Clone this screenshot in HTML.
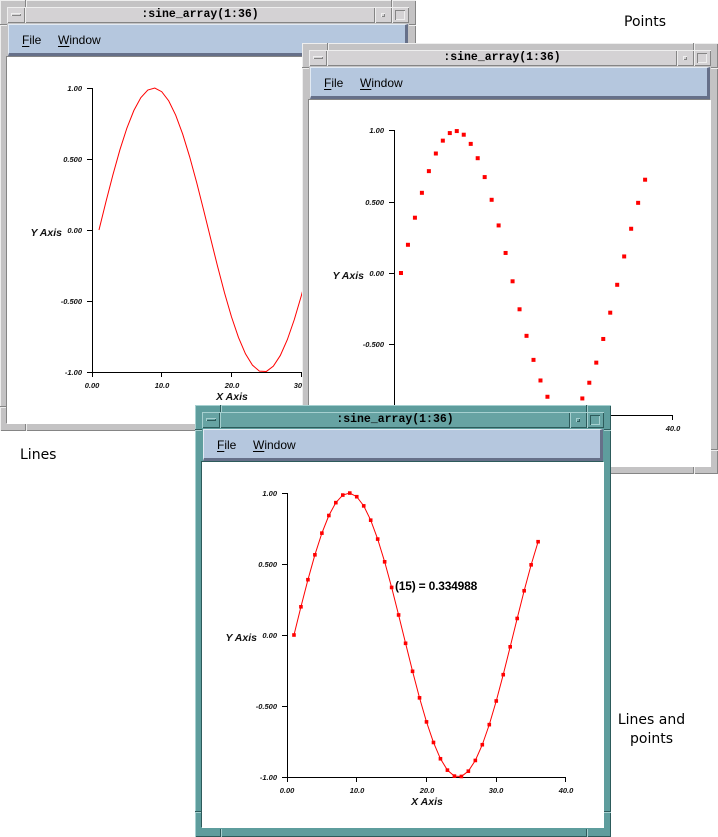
<!DOCTYPE html>
<html>
<head>
<meta charset="utf-8">
<style>
  html,body{margin:0;padding:0;background:#fff;}
  body{width:718px;height:837px;position:relative;overflow:hidden;font-family:"Liberation Sans",sans-serif;}
  .win{position:absolute;width:416px;height:431px;background:var(--f);
       box-shadow:inset 1px 1px 0 var(--l), inset -1px -1px 0 var(--d);}
  .gray{--f:#c4c3c4;--t:#d4d2d4;--l:#eeeeee;--d:#858585;}
  .teal{--f:#5e9d9d;--t:#67a3a3;--l:#a6d0d0;--d:#2d5b5b;}
  .tb{position:absolute;left:7px;top:7px;width:402px;height:16px;background:var(--t);}
  .b{position:absolute;top:0;height:16px;box-sizing:border-box;
     box-shadow:inset 1px 1px 0 var(--l), inset -1px -1px 0 var(--d);}
  .b0{left:0;width:18px;}
  .tt{left:18px;width:350px;text-align:center;font-family:"Liberation Mono",monospace;font-weight:bold;
      font-size:11.5px;line-height:16px;color:#000;white-space:nowrap;}
  .b1{left:368px;width:17px;}
  .b2{left:385px;width:17px;}
  .bar{position:absolute;left:4px;top:6px;width:10px;height:3px;box-sizing:border-box;
       box-shadow:inset 1px 1px 0 var(--l), inset -1px -1px 0 var(--d);}
  .sm{position:absolute;left:6px;top:6px;width:4px;height:4px;box-sizing:border-box;
       box-shadow:inset 1px 1px 0 var(--l), inset -1px -1px 0 var(--d);}
  .bg{position:absolute;left:3px;top:3px;width:10px;height:10px;box-sizing:border-box;
       box-shadow:inset 1px 1px 0 var(--d), inset -1px -1px 0 var(--l);}
  .mb{position:absolute;left:8px;top:24px;width:400px;height:32px;box-sizing:border-box;background:#b5c7de;
      border-top:1px solid #e2eaf3;border-left:1px solid #e2eaf3;border-bottom:3px solid #667089;border-right:3px solid #667089;}
  .mi{position:absolute;top:33px;font-size:12px;line-height:14px;color:#000;white-space:nowrap;}
  .mi u{text-decoration:underline;text-underline-offset:2px;}
  .cw{position:absolute;left:7px;top:57px;width:402px;height:367px;background:#fff;
      box-shadow:-1px -1px 0 var(--d);}
  .cv{position:absolute;background:var(--d);box-shadow:1px 0 0 var(--l);}
  .ch{position:absolute;background:var(--d);box-shadow:0 1px 0 var(--l);}
  svg.p{position:absolute;left:0;top:0;}
  .lbl{position:absolute;font-family:"DejaVu Sans",sans-serif;font-size:14px;color:#000;white-space:nowrap;}
</style>
</head>
<body>

<!-- WINDOW 1 : Lines -->
<div class="win gray" style="left:0;top:0;">
  <div class="cv" style="left:25px;top:0;width:1px;height:7px;"></div>
  <div class="cv" style="left:391px;top:0;width:1px;height:7px;"></div>
  <div class="cv" style="left:25px;top:424px;width:1px;height:7px;"></div>
  <div class="cv" style="left:391px;top:424px;width:1px;height:7px;"></div>
  <div class="ch" style="left:0;top:24px;width:7px;height:1px;"></div>
  <div class="ch" style="left:409px;top:24px;width:7px;height:1px;"></div>
  <div class="ch" style="left:0;top:406px;width:7px;height:1px;"></div>
  <div class="ch" style="left:409px;top:406px;width:7px;height:1px;"></div>
  <div class="tb">
    <div class="b b0"><i class="bar"></i></div>
    <div class="b tt">:sine_array(1:36)</div>
    <div class="b b1"><i class="sm"></i></div>
    <div class="b b2"><i class="bg"></i></div>
  </div>
  <div class="mb"></div>
  <span class="mi" style="left:22px;"><u>F</u>ile</span>
  <span class="mi" style="left:58px;"><u>W</u>indow</span>
  <div class="cw"></div>
  <svg class="p" width="416" height="431" viewBox="0 0 416 431">
    <g stroke="#000" stroke-width="1" fill="none" shape-rendering="crispEdges">
      <line x1="92.5" y1="88" x2="92.5" y2="372.5"/>
      <line x1="92" y1="372.5" x2="371" y2="372.5"/>
      <line x1="87" y1="88.5" x2="92" y2="88.5"/>
      <line x1="87" y1="159.5" x2="92" y2="159.5"/>
      <line x1="87" y1="230.5" x2="92" y2="230.5"/>
      <line x1="87" y1="301.5" x2="92" y2="301.5"/>
      <line x1="87" y1="372.5" x2="92" y2="372.5"/>
      <line x1="92.5" y1="372" x2="92.5" y2="377"/>
      <line x1="161.5" y1="372" x2="161.5" y2="377"/>
      <line x1="231.5" y1="372" x2="231.5" y2="377"/>
      <line x1="301.5" y1="372" x2="301.5" y2="377"/>
      <line x1="370.5" y1="372" x2="370.5" y2="377"/>
    </g>
    <g font-family="Liberation Sans, sans-serif" font-size="7.5" font-style="italic" font-weight="bold" fill="#111">
      <text x="82" y="91" text-anchor="end">1.00</text>
      <text x="82" y="162" text-anchor="end">0.500</text>
      <text x="82" y="233" text-anchor="end">0.00</text>
      <text x="82" y="304" text-anchor="end">-0.500</text>
      <text x="82" y="375" text-anchor="end">-1.00</text>
      <text x="92" y="388" text-anchor="middle">0.00</text>
      <text x="162" y="388" text-anchor="middle">10.0</text>
      <text x="232" y="388" text-anchor="middle">20.0</text>
      <text x="301" y="388" text-anchor="middle">30.0</text>
      <text x="371" y="388" text-anchor="middle">40.0</text>
    </g>
    <g font-family="Liberation Sans, sans-serif" font-size="10.5" font-style="italic" font-weight="bold" fill="#111">
      <text x="232" y="400" text-anchor="middle">X Axis</text>
      <text x="62" y="236" text-anchor="end">Y Axis</text>
    </g>
    <polyline fill="none" stroke="#ff0000" stroke-width="1" points="98.98,230 105.95,201.79 112.93,174.7 119.9,149.82 126.88,128.13 133.85,110.51 140.83,97.65 147.8,90.07 154.78,88.06 161.75,91.71 168.73,100.88 175.7,115.19 182.68,134.08 189.65,156.8 196.63,182.43 203.6,209.96 210.58,238.29 217.55,266.29 224.53,292.84 231.5,316.88 238.48,337.47 245.45,353.76 252.43,365.13 259.4,371.1 266.38,371.45 273.35,366.17 280.33,355.45 287.3,339.73 294.28,319.64 301.25,295.97 308.23,269.68 315.2,241.8 322.18,213.45 329.15,185.76 336.13,159.84 343.1,136.71"/>
  </svg>
</div>

<!-- WINDOW 2 : Points -->
<div class="win gray" style="left:302px;top:43px;">
  <div class="cv" style="left:25px;top:0;width:1px;height:7px;"></div>
  <div class="cv" style="left:391px;top:0;width:1px;height:7px;"></div>
  <div class="cv" style="left:25px;top:424px;width:1px;height:7px;"></div>
  <div class="cv" style="left:391px;top:424px;width:1px;height:7px;"></div>
  <div class="ch" style="left:0;top:24px;width:7px;height:1px;"></div>
  <div class="ch" style="left:409px;top:24px;width:7px;height:1px;"></div>
  <div class="ch" style="left:0;top:406px;width:7px;height:1px;"></div>
  <div class="ch" style="left:409px;top:406px;width:7px;height:1px;"></div>
  <div class="tb">
    <div class="b b0"><i class="bar"></i></div>
    <div class="b tt">:sine_array(1:36)</div>
    <div class="b b1"><i class="sm"></i></div>
    <div class="b b2"><i class="bg"></i></div>
  </div>
  <div class="mb"></div>
  <span class="mi" style="left:22px;"><u>F</u>ile</span>
  <span class="mi" style="left:58px;"><u>W</u>indow</span>
  <div class="cw"></div>
  <svg class="p" width="416" height="431" viewBox="0 0 416 431">
    <g stroke="#000" stroke-width="1" fill="none" shape-rendering="crispEdges">
      <line x1="92.5" y1="87" x2="92.5" y2="372.5"/>
      <line x1="92" y1="372.5" x2="371" y2="372.5"/>
      <line x1="87" y1="87.5" x2="92" y2="87.5"/>
      <line x1="87" y1="159.5" x2="92" y2="159.5"/>
      <line x1="87" y1="230.5" x2="92" y2="230.5"/>
      <line x1="87" y1="301.5" x2="92" y2="301.5"/>
      <line x1="87" y1="372.5" x2="92" y2="372.5"/>
      <line x1="92.5" y1="372" x2="92.5" y2="377"/>
      <line x1="161.5" y1="372" x2="161.5" y2="377"/>
      <line x1="231.5" y1="372" x2="231.5" y2="377"/>
      <line x1="301.5" y1="372" x2="301.5" y2="377"/>
      <line x1="370.5" y1="372" x2="370.5" y2="377"/>
    </g>
    <g font-family="Liberation Sans, sans-serif" font-size="7.5" font-style="italic" font-weight="bold" fill="#111">
      <text x="82" y="90" text-anchor="end">1.00</text>
      <text x="82" y="162" text-anchor="end">0.500</text>
      <text x="82" y="233" text-anchor="end">0.00</text>
      <text x="82" y="304" text-anchor="end">-0.500</text>
      <text x="82" y="375" text-anchor="end">-1.00</text>
      <text x="92" y="388" text-anchor="middle">0.00</text>
      <text x="162" y="388" text-anchor="middle">10.0</text>
      <text x="232" y="388" text-anchor="middle">20.0</text>
      <text x="301" y="388" text-anchor="middle">30.0</text>
      <text x="371" y="388" text-anchor="middle">40.0</text>
    </g>
    <g font-family="Liberation Sans, sans-serif" font-size="10.5" font-style="italic" font-weight="bold" fill="#111">
      <text x="232" y="400" text-anchor="middle">X Axis</text>
      <text x="62" y="236" text-anchor="end">Y Axis</text>
    </g>
    <g fill="#ff0000">
      <rect x="96.98" y="228" width="4" height="4"/>
      <rect x="103.95" y="199.79" width="4" height="4"/>
      <rect x="110.93" y="172.7" width="4" height="4"/>
      <rect x="117.9" y="147.82" width="4" height="4"/>
      <rect x="124.88" y="126.13" width="4" height="4"/>
      <rect x="131.85" y="108.51" width="4" height="4"/>
      <rect x="138.83" y="95.65" width="4" height="4"/>
      <rect x="145.8" y="88.07" width="4" height="4"/>
      <rect x="152.78" y="86.06" width="4" height="4"/>
      <rect x="159.75" y="89.71" width="4" height="4"/>
      <rect x="166.73" y="98.88" width="4" height="4"/>
      <rect x="173.7" y="113.19" width="4" height="4"/>
      <rect x="180.68" y="132.08" width="4" height="4"/>
      <rect x="187.65" y="154.8" width="4" height="4"/>
      <rect x="194.63" y="180.43" width="4" height="4"/>
      <rect x="201.6" y="207.96" width="4" height="4"/>
      <rect x="208.58" y="236.29" width="4" height="4"/>
      <rect x="215.55" y="264.29" width="4" height="4"/>
      <rect x="222.53" y="290.84" width="4" height="4"/>
      <rect x="229.5" y="314.88" width="4" height="4"/>
      <rect x="236.48" y="335.47" width="4" height="4"/>
      <rect x="243.45" y="351.76" width="4" height="4"/>
      <rect x="250.43" y="363.13" width="4" height="4"/>
      <rect x="257.4" y="369.1" width="4" height="4"/>
      <rect x="264.38" y="369.45" width="4" height="4"/>
      <rect x="271.35" y="364.17" width="4" height="4"/>
      <rect x="278.33" y="353.45" width="4" height="4"/>
      <rect x="285.3" y="337.73" width="4" height="4"/>
      <rect x="292.28" y="317.64" width="4" height="4"/>
      <rect x="299.25" y="293.97" width="4" height="4"/>
      <rect x="306.23" y="267.68" width="4" height="4"/>
      <rect x="313.2" y="239.8" width="4" height="4"/>
      <rect x="320.18" y="211.45" width="4" height="4"/>
      <rect x="327.15" y="183.76" width="4" height="4"/>
      <rect x="334.13" y="157.84" width="4" height="4"/>
      <rect x="341.1" y="134.71" width="4" height="4"/>
    </g>
  </svg>
</div>

<!-- WINDOW 3 : Lines and points -->
<div class="win teal" style="left:195px;top:405px;height:432px;">
  <div class="cv" style="left:25px;top:0;width:1px;height:7px;"></div>
  <div class="cv" style="left:391px;top:0;width:1px;height:7px;"></div>
  <div class="cv" style="left:25px;top:424px;width:1px;height:8px;"></div>
  <div class="cv" style="left:391px;top:424px;width:1px;height:8px;"></div>
  <div class="ch" style="left:0;top:24px;width:7px;height:1px;"></div>
  <div class="ch" style="left:409px;top:24px;width:7px;height:1px;"></div>
  <div class="ch" style="left:0;top:406px;width:7px;height:1px;"></div>
  <div class="ch" style="left:409px;top:406px;width:7px;height:1px;"></div>
  <div class="tb">
    <div class="b b0"><i class="bar"></i></div>
    <div class="b tt">:sine_array(1:36)</div>
    <div class="b b1"><i class="sm"></i></div>
    <div class="b b2"><i class="bg"></i></div>
  </div>
  <div class="mb"></div>
  <span class="mi" style="left:22px;"><u>F</u>ile</span>
  <span class="mi" style="left:58px;"><u>W</u>indow</span>
  <div class="cw" style="height:366px;"></div>
  <svg class="p" width="416" height="432" viewBox="0 0 416 432">
    <g stroke="#000" stroke-width="1" fill="none" shape-rendering="crispEdges">
      <line x1="92.5" y1="88" x2="92.5" y2="372.5"/>
      <line x1="92" y1="372.5" x2="371" y2="372.5"/>
      <line x1="87" y1="88.5" x2="92" y2="88.5"/>
      <line x1="87" y1="159.5" x2="92" y2="159.5"/>
      <line x1="87" y1="230.5" x2="92" y2="230.5"/>
      <line x1="87" y1="301.5" x2="92" y2="301.5"/>
      <line x1="87" y1="372.5" x2="92" y2="372.5"/>
      <line x1="92.5" y1="372" x2="92.5" y2="377"/>
      <line x1="161.5" y1="372" x2="161.5" y2="377"/>
      <line x1="231.5" y1="372" x2="231.5" y2="377"/>
      <line x1="301.5" y1="372" x2="301.5" y2="377"/>
      <line x1="370.5" y1="372" x2="370.5" y2="377"/>
    </g>
    <g font-family="Liberation Sans, sans-serif" font-size="7.5" font-style="italic" font-weight="bold" fill="#111">
      <text x="82" y="91" text-anchor="end">1.00</text>
      <text x="82" y="162" text-anchor="end">0.500</text>
      <text x="82" y="233" text-anchor="end">0.00</text>
      <text x="82" y="304" text-anchor="end">-0.500</text>
      <text x="82" y="375" text-anchor="end">-1.00</text>
      <text x="92" y="388" text-anchor="middle">0.00</text>
      <text x="162" y="388" text-anchor="middle">10.0</text>
      <text x="232" y="388" text-anchor="middle">20.0</text>
      <text x="301" y="388" text-anchor="middle">30.0</text>
      <text x="371" y="388" text-anchor="middle">40.0</text>
    </g>
    <g font-family="Liberation Sans, sans-serif" font-size="10.5" font-style="italic" font-weight="bold" fill="#111">
      <text x="232" y="400" text-anchor="middle">X Axis</text>
      <text x="62" y="236" text-anchor="end">Y Axis</text>
    </g>
    <polyline fill="none" stroke="#ff0000" stroke-width="1" points="98.98,230 105.95,201.79 112.93,174.7 119.9,149.82 126.88,128.13 133.85,110.51 140.83,97.65 147.8,90.07 154.78,88.06 161.75,91.71 168.73,100.88 175.7,115.19 182.68,134.08 189.65,156.8 196.63,182.43 203.6,209.96 210.58,238.29 217.55,266.29 224.53,292.84 231.5,316.88 238.48,337.47 245.45,353.76 252.43,365.13 259.4,371.1 266.38,371.45 273.35,366.17 280.33,355.45 287.3,339.73 294.28,319.64 301.25,295.97 308.23,269.68 315.2,241.8 322.18,213.45 329.15,185.76 336.13,159.84 343.1,136.71"/>
    <g fill="#ff0000">
      <rect x="97.18" y="228.2" width="3.6" height="3.6"/>
      <rect x="104.15" y="199.99" width="3.6" height="3.6"/>
      <rect x="111.13" y="172.9" width="3.6" height="3.6"/>
      <rect x="118.1" y="148.02" width="3.6" height="3.6"/>
      <rect x="125.08" y="126.33" width="3.6" height="3.6"/>
      <rect x="132.05" y="108.71" width="3.6" height="3.6"/>
      <rect x="139.03" y="95.85" width="3.6" height="3.6"/>
      <rect x="146" y="88.27" width="3.6" height="3.6"/>
      <rect x="152.98" y="86.26" width="3.6" height="3.6"/>
      <rect x="159.95" y="89.91" width="3.6" height="3.6"/>
      <rect x="166.93" y="99.08" width="3.6" height="3.6"/>
      <rect x="173.9" y="113.39" width="3.6" height="3.6"/>
      <rect x="180.88" y="132.28" width="3.6" height="3.6"/>
      <rect x="187.85" y="155" width="3.6" height="3.6"/>
      <rect x="194.83" y="180.63" width="3.6" height="3.6"/>
      <rect x="201.8" y="208.16" width="3.6" height="3.6"/>
      <rect x="208.78" y="236.49" width="3.6" height="3.6"/>
      <rect x="215.75" y="264.49" width="3.6" height="3.6"/>
      <rect x="222.73" y="291.04" width="3.6" height="3.6"/>
      <rect x="229.7" y="315.08" width="3.6" height="3.6"/>
      <rect x="236.68" y="335.67" width="3.6" height="3.6"/>
      <rect x="243.65" y="351.96" width="3.6" height="3.6"/>
      <rect x="250.63" y="363.33" width="3.6" height="3.6"/>
      <rect x="257.6" y="369.3" width="3.6" height="3.6"/>
      <rect x="264.58" y="369.65" width="3.6" height="3.6"/>
      <rect x="271.55" y="364.37" width="3.6" height="3.6"/>
      <rect x="278.53" y="353.65" width="3.6" height="3.6"/>
      <rect x="285.5" y="337.93" width="3.6" height="3.6"/>
      <rect x="292.48" y="317.84" width="3.6" height="3.6"/>
      <rect x="299.45" y="294.17" width="3.6" height="3.6"/>
      <rect x="306.43" y="267.88" width="3.6" height="3.6"/>
      <rect x="313.4" y="240" width="3.6" height="3.6"/>
      <rect x="320.38" y="211.65" width="3.6" height="3.6"/>
      <rect x="327.35" y="183.96" width="3.6" height="3.6"/>
      <rect x="334.33" y="158.04" width="3.6" height="3.6"/>
      <rect x="341.3" y="134.91" width="3.6" height="3.6"/>
    </g>
    <text x="200" y="185" font-family="Liberation Sans, sans-serif" font-size="12" font-weight="bold" fill="#000" letter-spacing="-0.2">(15) = 0.334988</text>
  </svg>
</div>

<!-- Captions -->
<div class="lbl" style="left:624px;top:14px;">Points</div>
<div class="lbl" style="left:20px;top:447px;">Lines</div>
<div class="lbl" style="left:610px;top:711px;width:83px;text-align:center;line-height:19px;">Lines and<br>points</div>

</body>
</html>
